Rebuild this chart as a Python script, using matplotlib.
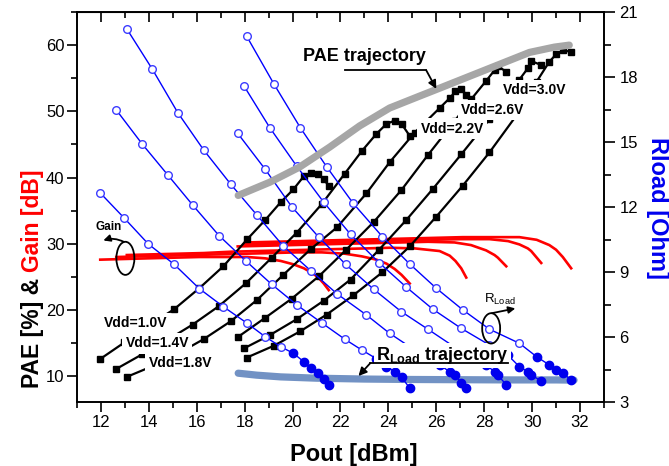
import matplotlib
matplotlib.use('Agg')
import matplotlib.pyplot as plt
from matplotlib.patches import Ellipse
from matplotlib.ticker import MultipleLocator

plt.rcParams['font.family'] = ['Liberation Sans', 'DejaVu Sans']
plt.rcParams['mathtext.fontset'] = 'custom'
plt.rcParams['mathtext.rm'] = 'Liberation Sans'
plt.rcParams['mathtext.bf'] = 'Liberation Sans:bold'

# ---- Vdd = 1.0 V
pout_10 = [11.97, 12.98, 13.98, 15.05, 16.11, 17.11, 18.11, 18.86, 19.51, 20.03, 20.47, 20.76, 21.05, 21.30, 21.51]
pae_10 = [12.6, 15.1, 17.6, 20.1, 23.3, 26.6, 30.7, 33.6, 36.3, 38.2, 40.2, 40.7, 40.5, 39.8, 38.7]
gain_10 = [27.6, 27.7, 27.8, 27.9, 28.0, 28.0, 28.0, 27.8, 27.4, 26.9, 26.3, 25.7, 25.0, 24.0, 23.0]
rload_10 = [12.65, 11.48, 10.29, 9.36, 8.23, 7.40, 6.63, 6.01, 5.55, 5.25, 4.86, 4.56, 4.33, 4.06, 3.79]

# ---- Vdd = 1.4 V
pout_14 = [12.64, 13.72, 14.79, 15.83, 16.93, 18.04, 19.13, 20.18, 21.22, 22.18, 22.89, 23.50, 23.92, 24.26, 24.55, 24.89]
pae_14 = [11.1, 13.3, 15.5, 17.8, 20.6, 24.0, 27.9, 31.7, 36.0, 40.6, 44.0, 46.6, 48.1, 48.6, 48.1, 46.3]
gain_14 = [28.0, 28.1, 28.2, 28.3, 28.4, 28.5, 28.6, 28.7, 28.7, 28.5, 28.1, 27.6, 27.0, 26.2, 25.3, 24.0]
rload_14 = [16.48, 14.91, 13.48, 12.09, 10.68, 9.52, 8.43, 7.48, 6.65, 5.90, 5.40, 5.00, 4.63, 4.40, 4.15, 3.64]

# ---- Vdd = 1.8 V
pout_18 = [13.08, 14.14, 15.21, 16.29, 17.42, 18.51, 19.61, 20.76, 21.86, 23.08, 24.05, 25.10, 26.14, 26.56, 26.80, 27.04, 27.25]
pae_18 = [9.9, 11.5, 13.4, 15.6, 18.3, 21.5, 25.3, 29.2, 32.5, 37.6, 42.3, 46.8, 50.5, 52.0, 53.0, 53.4, 52.5]
gain_18 = [28.3, 28.4, 28.5, 28.6, 28.8, 28.9, 29.0, 29.1, 29.2, 29.3, 29.4, 29.3, 28.9, 28.2, 27.4, 26.3, 24.9]
rload_18 = [20.22, 18.37, 16.35, 14.63, 13.05, 11.63, 10.20, 9.06, 7.99, 7.02, 6.17, 5.40, 4.71, 4.40, 4.25, 3.87, 3.64]

# ---- Vdd = 2.2 V
pout_22 = [17.71, 18.85, 19.96, 21.10, 22.21, 23.39, 24.54, 25.65, 26.76, 27.45, 28.08, 28.43, 28.57, 28.92]
pae_22 = [15.9, 18.8, 21.7, 25.1, 29.0, 33.3, 38.1, 43.4, 48.5, 51.8, 54.6, 56.2, 56.8, 56.0]
gain_22 = [29.6, 29.7, 29.8, 29.9, 30.0, 30.1, 30.2, 30.3, 30.2, 29.8, 29.0, 28.3, 27.9, 26.6]
rload_22 = [15.40, 13.75, 12.02, 10.60, 9.36, 8.20, 7.17, 6.36, 5.54, 5.10, 4.71, 4.40, 4.25, 3.79]

# ---- Vdd = 2.6 V
pout_26 = [17.97, 19.05, 20.17, 21.30, 22.42, 23.61, 24.75, 25.86, 27.04, 28.22, 29.00, 29.47, 29.82, 29.96, 30.38]
pae_26 = [14.2, 16.2, 18.6, 21.4, 24.6, 29.1, 33.6, 38.3, 43.5, 48.8, 52.3, 54.8, 56.5, 57.6, 57.0]
gain_26 = [29.9, 30.0, 30.1, 30.2, 30.3, 30.4, 30.5, 30.6, 30.7, 30.7, 30.4, 29.9, 29.3, 28.9, 27.1]
rload_26 = [17.59, 15.66, 13.89, 12.22, 10.74, 9.43, 8.30, 7.28, 6.40, 5.63, 5.15, 4.63, 4.40, 4.25, 3.97]

# ---- Vdd = 3.0 V
pout_30 = [18.08, 19.22, 20.33, 21.42, 22.53, 23.75, 24.89, 26.00, 27.11, 28.22, 29.47, 30.19, 30.72, 31.00, 31.28, 31.63]
pae_30 = [12.8, 14.6, 16.8, 19.3, 22.2, 25.7, 29.6, 34.1, 38.8, 43.8, 50.0, 54.5, 57.5, 58.6, 59.2, 59.0]
gain_30 = [30.2, 30.3, 30.4, 30.5, 30.6, 30.7, 30.8, 30.9, 31.0, 31.0, 31.0, 30.6, 29.8, 29.1, 28.0, 26.3]
rload_30 = [19.89, 17.68, 15.65, 13.86, 12.17, 10.63, 9.37, 8.25, 7.25, 6.36, 5.71, 5.09, 4.71, 4.48, 4.33, 4.02]

# number of leading points drawn as open circles (rest are filled)
n_open = [9, 11, 12, 10, 10, 11]

# trajectories
traj_pae_pout = [17.73, 19.05, 20.30, 21.55, 22.80, 24.05, 25.30, 26.14, 27.39, 28.64, 29.89, 30.93, 31.55]
traj_pae = [37.3, 39.3, 41.6, 44.6, 47.8, 50.5, 52.3, 53.5, 55.3, 57.1, 58.9, 59.7, 60.0]
traj_r_pout = [17.73, 18.5, 19.5, 21.0, 23.0, 25.0, 27.0, 29.0, 31.0, 31.75]
traj_r = [4.33, 4.24, 4.16, 4.10, 4.06, 4.04, 4.03, 4.02, 4.02, 4.01]

vdd_names = ['Vdd=1.0V', 'Vdd=1.4V', 'Vdd=1.8V', 'Vdd=2.2V', 'Vdd=2.6V', 'Vdd=3.0V']
vdd_pos = [(13.43, 18.0), (14.35, 15.0), (15.33, 12.0), (26.66, 47.4), (28.36, 50.2), (30.1, 53.2)]

curves = [
    (pout_10, pae_10, gain_10, rload_10),
    (pout_14, pae_14, gain_14, rload_14),
    (pout_18, pae_18, gain_18, rload_18),
    (pout_22, pae_22, gain_22, rload_22),
    (pout_26, pae_26, gain_26, rload_26),
    (pout_30, pae_30, gain_30, rload_30),
]

###############################################################################

fig = plt.figure(figsize=(6.69, 4.66), dpi=100)
ax = fig.add_axes([0.1151, 0.1373, 0.7877, 0.8369])
ax2 = ax.twinx()

for p, pae, g, r in curves:
    ax.plot(p, g, color='#ff0000', lw=1.9, zorder=2)
for p, pae, g, r in curves:
    ax.plot(p, pae, color='black', lw=1.6, marker='s', ms=4.3, zorder=3)

ax2.plot(traj_r_pout, traj_r, color='#7292c4', lw=5.2, solid_capstyle='round', zorder=2)
for (p, pae, g, r), n in zip(curves, n_open):
    ax2.plot(p, r, color='#0000ff', lw=1.0, zorder=3)
    ax2.plot(p[:n], r[:n], ls='none', marker='o', ms=5.5, mfc='white', mec='#3c3cff', mew=1.0, zorder=4)
    ax2.plot(p[n:], r[n:], ls='none', marker='o', ms=6, mfc='#0000ee', mec='#0000ee', zorder=4)

# PAE trajectory on top of everything, in left-axis units
ax2.plot(traj_pae_pout, traj_pae, transform=ax.transData, color='#a6a6a6', lw=5.2,
         solid_capstyle='round', zorder=5)

for name, (x, y) in zip(vdd_names, vdd_pos):
    ax2.text(x, y, name, transform=ax.transData, fontsize=10, fontweight='bold',
             ha='center', va='center', zorder=6,
             bbox=dict(facecolor='white', edgecolor='none', pad=2.5))

# annotations
ax2.text(23.0, 57.6, 'PAE trajectory', transform=ax.transData, fontsize=13,
         fontweight='bold', ha='center', va='baseline', zorder=6)
ax2.plot([22.18, 25.58], [56.2, 56.2], transform=ax.transData, color='black', lw=1.3, zorder=6)
ax2.annotate('', xy=(26.0, 53.4), xytext=(25.58, 56.2), xycoords=ax.transData,
             textcoords=ax.transData, zorder=6,
             arrowprops=dict(arrowstyle='-|>', color='black', lw=1.3, mutation_scale=12,
                             shrinkA=0, shrinkB=0))

ax2.text(26.24, 4.94, r'R$_{\mathregular{Load}}$ trajectory', fontsize=13, fontweight='bold',
         ha='center', va='baseline', zorder=6,
         bbox=dict(facecolor='white', edgecolor='none', pad=1.5))
ax2.plot([23.24, 28.98], [4.79, 4.79], color='black', lw=1.3, zorder=7)
ax2.annotate('', xy=(22.75, 4.2), xytext=(23.24, 4.79), zorder=7,
             arrowprops=dict(arrowstyle='-|>', color='black', lw=1.3, mutation_scale=12,
                             shrinkA=0, shrinkB=0))

ax2.add_patch(Ellipse((13.02, 27.8), 0.75, 5.0, transform=ax.transData, fill=False,
                      ec='black', lw=1.3, zorder=6))
ax2.annotate('', xy=(12.1, 30.5), xytext=(12.95, 30.3), xycoords=ax.transData,
             textcoords=ax.transData, zorder=6,
             arrowprops=dict(arrowstyle='-|>', color='black', lw=1.3, mutation_scale=10,
                             shrinkA=0, shrinkB=0, connectionstyle='arc3,rad=0.2'))
ax2.text(12.3, 32.6, 'Gain', transform=ax.transData, fontsize=8.5, fontweight='bold',
         ha='center', va='center', zorder=6)

ax2.add_patch(Ellipse((28.29, 6.40), 0.75, 1.4, fill=False, ec='black', lw=1.3, zorder=6))
ax2.annotate('', xy=(29.3, 7.32), xytext=(28.32, 7.1), zorder=6,
             arrowprops=dict(arrowstyle='-|>', color='black', lw=1.3, mutation_scale=10,
                             shrinkA=0, shrinkB=0))
ax2.text(28.64, 7.75, r'R$_{\mathregular{Load}}$', fontsize=9.5, ha='center', va='center', zorder=6)

# axes, ticks
ax.set_xlim(11, 33)
ax.set_ylim(6.1, 65.0)
ax2.set_ylim(3, 21)

ax.xaxis.set_major_locator(MultipleLocator(2))
ax.xaxis.set_minor_locator(MultipleLocator(1))
ax.yaxis.set_major_locator(MultipleLocator(10))
ax.yaxis.set_minor_locator(MultipleLocator(5))
ax2.yaxis.set_major_locator(MultipleLocator(3))
ax2.yaxis.set_minor_locator(MultipleLocator(1.5))

for a in (ax, ax2):
    for s in a.spines.values():
        s.set_linewidth(1.2)
ax.tick_params(axis='both', which='major', direction='out', length=7, width=1.2,
               labelsize=12, pad=2)
ax.tick_params(axis='both', which='minor', direction='out', length=4, width=1.2)
ax2.tick_params(axis='y', which='major', direction='out', length=8, width=1.2,
                labelsize=12, pad=3)
ax2.tick_params(axis='y', which='minor', direction='out', length=5, width=1.2)

top = ax.secondary_xaxis('top')
top.xaxis.set_major_locator(MultipleLocator(2))
top.xaxis.set_minor_locator(MultipleLocator(1))
top.tick_params(which='major', direction='in', length=7, width=1.2, labeltop=False)
top.tick_params(which='minor', direction='in', length=4, width=1.2)

ax.set_xlabel('Pout [dBm]', fontsize=17, fontweight='bold')
ax.xaxis.set_label_coords(0.526, -0.105)

fig.text(658 / 669, 1 - 208 / 466, 'Rload [Ohm]', rotation=-90, ha='center', va='center',
         fontsize=17, fontweight='bold', color='#0000ee')

fig.canvas.draw()
rend = fig.canvas.get_renderer()
lx, ly = 32 / 669, 78 / 466
t1 = fig.text(lx, ly, 'PAE [%] & ', rotation=90, ha='center', va='bottom',
              fontsize=16.5, fontweight='bold', color='black')
h = t1.get_window_extent(rend).height / fig.bbox.height
fig.text(lx, ly + h, 'Gain [dB]', rotation=90, ha='center', va='bottom',
         fontsize=16.5, fontweight='bold', color='#ff0000')

fig.savefig('out.png', dpi=100)
